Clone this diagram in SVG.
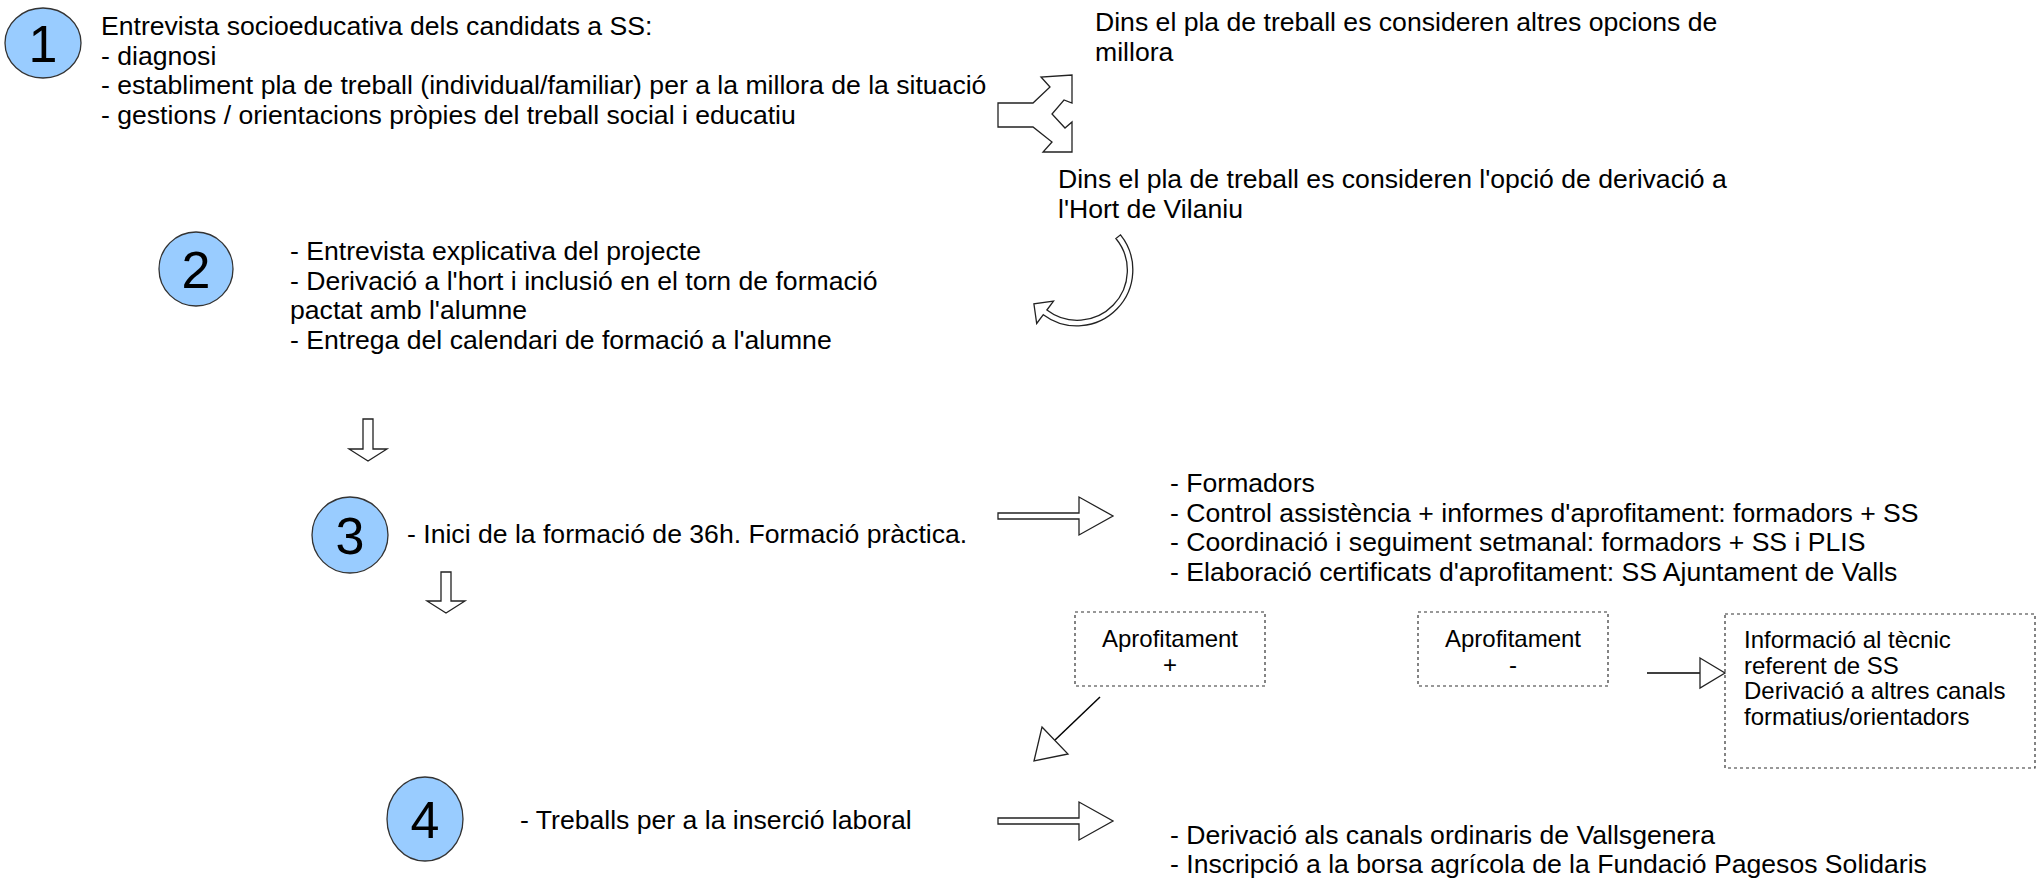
<svg xmlns="http://www.w3.org/2000/svg" width="2038" height="881" viewBox="0 0 2038 881">
<style>
.t{font-family:"Liberation Sans",Arial,sans-serif;font-size:26.6px;fill:#000}
.s{font-family:"Liberation Sans",Arial,sans-serif;font-size:24px;fill:#000}
.n{font-family:"Liberation Sans",Arial,sans-serif;font-size:52px;fill:#000;text-anchor:middle}
.c{fill:#99ccff;stroke:#333;stroke-width:1.3}
.a{fill:#fff;stroke:#222;stroke-width:1.3;stroke-linejoin:miter}
.d{fill:none;stroke:#333;stroke-width:1.2;stroke-dasharray:3 3}
.l{stroke:#000;stroke-width:1.5;fill:none}
</style>
<rect width="2038" height="881" fill="#fff"/>
<g id="step1">
<ellipse class="c" cx="43" cy="43" rx="38" ry="35"/>
<text class="n" x="43" y="62">1</text>
<text class="t" x="101" y="35">Entrevista socioeducativa dels candidats a SS:</text>
<text class="t" x="101" y="64.5">- diagnosi</text>
<text class="t" x="101" y="94">- establiment pla de treball (individual/familiar) per a la millora de la situació</text>
<text class="t" x="101" y="123.5">- gestions / orientacions pròpies del treball social i educatiu</text>
</g>
<g id="option_altres">
<text class="t" x="1095" y="31">Dins el pla de treball es consideren altres opcions de</text>
<text class="t" x="1095" y="60.5">millora</text>
</g>
<g id="option_hort">
<text class="t" x="1058" y="188">Dins el pla de treball es consideren l'opció de derivació a</text>
<text class="t" x="1058" y="217.5">l'Hort de Vilaniu</text>
</g>
<g id="step2">
<ellipse class="c" cx="196" cy="269" rx="37" ry="37"/>
<text class="n" x="196" y="288">2</text>
<text class="t" x="290" y="260">- Entrevista explicativa del projecte</text>
<text class="t" x="290" y="289.5">- Derivació a l'hort i inclusió en el torn de formació</text>
<text class="t" x="290" y="319">pactat amb l'alumne</text>
<text class="t" x="290" y="348.5">- Entrega del calendari de formació a l'alumne</text>
</g>
<g id="step3">
<ellipse class="c" cx="350" cy="535" rx="38" ry="38"/>
<text class="n" x="350" y="554">3</text>
<text class="t" x="407" y="543">- Inici de la formació de 36h. Formació pràctica.</text>
</g>
<g id="step3_detail">
<text class="t" x="1170" y="492">- Formadors</text>
<text class="t" x="1170" y="521.5">- Control assistència + informes d'aprofitament: formadors + SS</text>
<text class="t" x="1170" y="551">- Coordinació i seguiment setmanal: formadors + SS i PLIS</text>
<text class="t" x="1170" y="580.5">- Elaboració certificats d'aprofitament: SS Ajuntament de Valls</text>
</g>
<g id="aprofitament_pos">
<rect class="d" x="1075" y="612" width="190" height="74"/>
<text class="s" x="1170" y="647" text-anchor="middle">Aprofitament</text>
<text class="s" x="1170" y="673" text-anchor="middle">+</text>
</g>
<g id="aprofitament_neg">
<rect class="d" x="1418" y="612" width="190" height="74"/>
<text class="s" x="1513" y="647" text-anchor="middle">Aprofitament</text>
<text class="s" x="1513" y="673" text-anchor="middle">-</text>
</g>
<g id="informacio">
<rect class="d" x="1725" y="614" width="310" height="154"/>
<text class="s" x="1744" y="648">Informació al tècnic</text>
<text class="s" x="1744" y="673.5">referent de SS</text>
<text class="s" x="1744" y="699">Derivació a altres canals</text>
<text class="s" x="1744" y="724.5">formatius/orientadors</text>
</g>
<g id="step4">
<ellipse class="c" cx="425" cy="819" rx="38" ry="42"/>
<text class="n" x="425" y="838">4</text>
<text class="t" x="520" y="829">- Treballs per a la inserció laboral</text>
</g>
<g id="step4_detail">
<text class="t" x="1170" y="844">- Derivació als canals ordinaris de Vallsgenera</text>
<text class="t" x="1170" y="873">- Inscripció a la borsa agrícola de la Fundació Pagesos Solidaris</text>
</g>
<g id="connectors">
<polygon class="a" points="998,103 1033,103 1050,87 1041,77 1072,75 1072,103 1064,100 1052,114 1065,128 1072,122 1072,152 1043,152 1052,142 1033,127 998,127"/>
<path class="a" d="M1120.5 234.8 A56 56 0 0 1 1043.3 314.7 L1036.7 323.5 L1033.9 303.9 L1053.5 301.2 L1046.9 310 A50 50 0 0 0 1115.9 238.5 Z"/>
<polygon class="a" points="363,419 373,419 373,449 387,449 368,461 349,449 363,449"/>
<polygon class="a" points="441,572 451,572 451,601 465,601 446,613 427,601 441,601"/>
<polygon class="a" points="998,513 1079,513 1079,497 1113,516 1079,535 1079,519 998,519"/>
<polygon class="a" points="998,818 1079,818 1079,802 1113,821 1079,840 1079,824 998,824"/>
<line class="l" x1="1100" y1="697" x2="1055" y2="740"/>
<polygon class="a" points="1042,727 1068,754 1034,761"/>
<line class="l" x1="1647" y1="673" x2="1700" y2="673"/>
<polygon class="a" points="1700,658 1725,673 1700,688"/>
</g>
</svg>
